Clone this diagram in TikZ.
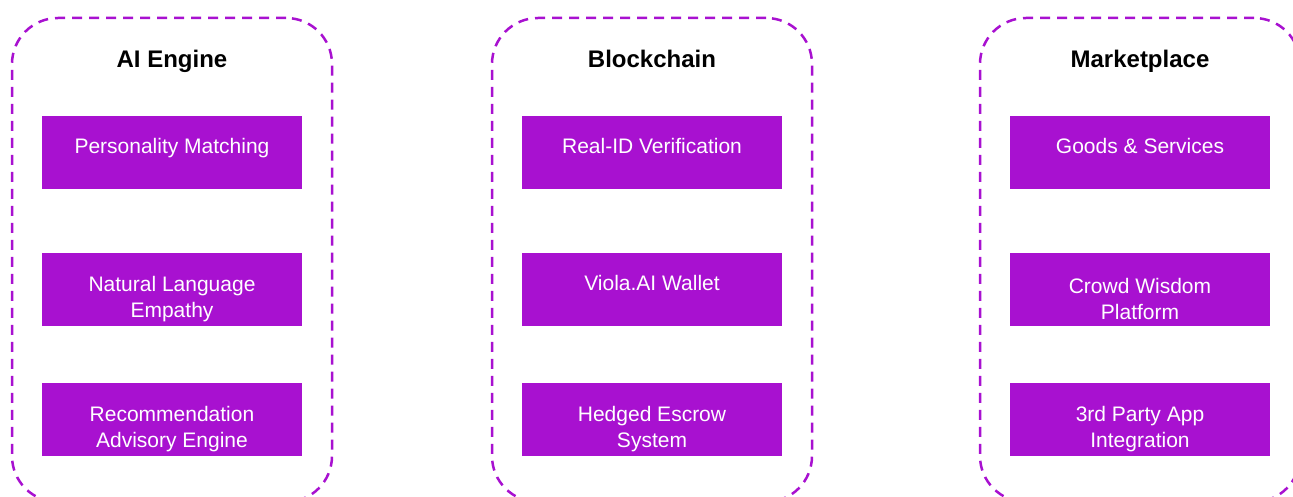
\documentclass[tikz,border=0pt]{standalone}
\usepackage{fontspec}
\setmainfont{Liberation Sans}
\usetikzlibrary{positioning}
\definecolor{vpurple}{HTML}{A811D0}

\begin{document}
\begin{tikzpicture}[x=1pt, y=-1pt, on grid, node distance=137pt,
   lane/.style={draw=vpurple, line width=2.5pt, dash pattern=on 10pt off 7pt,
      rounded corners=46pt, minimum width=320pt, minimum height=484pt},
   head/.style={font=\bfseries\fontsize{24}{29}\selectfont, inner sep=0pt,
      text height=17pt, text depth=0pt},
   box/.style={fill=vpurple, text=white, minimum width=260pt, minimum height=73pt,
      align=center, inner sep=0pt, font=\fontsize{21}{26}\selectfont},
   part/.style={box, execute at begin node={\rule[-14pt]{0pt}{14pt}}},
   twoline/.style={box, execute at begin node={\rule{0pt}{59pt}}}]

   \useasboundingbox (0,0) rectangle (1293,497);
   \clip (0,0) rectangle (1293,497);

   % three columns
   \node[lane] (ai) at (172,260) {};
   \node[lane] (bc) at (652,260) {};
   \node[lane] (mp) at (1140,260) {};

   \node[head, below=33.25pt of ai.north] (aihead) {AI Engine};
   \node[head, below=33.25pt of bc.north] (bchead) {Blockchain};
   \node[head, below=33.25pt of mp.north] (mphead) {Marketplace};

   % AI engine
   \node[part, below=94pt of aihead] (pm) {Personality Matching};
   \node[twoline, below=of pm] (nle) {Natural Language\\Empathy};
   \node[twoline, below=130pt of nle] (rae) {Recommendation\\Advisory Engine};

   % blockchain
   \node[part, below=94pt of bchead] (rid) {Real-ID Verification};
   \node[part, below=of rid] (wal) {Viola.AI Wallet};
   \node[twoline, below=130pt of wal] (esc) {Hedged Escrow\\System};

   % marketplace
   \node[part, below=94pt of mphead] (gs) {Goods \& Services};
   \node[twoline, below=of gs] (cwp) {Crowd Wisdom\\Platform};
   \node[twoline, below=130pt of cwp] (tpa) {3rd Party App\\Integration};
\end{tikzpicture}
\end{document}
